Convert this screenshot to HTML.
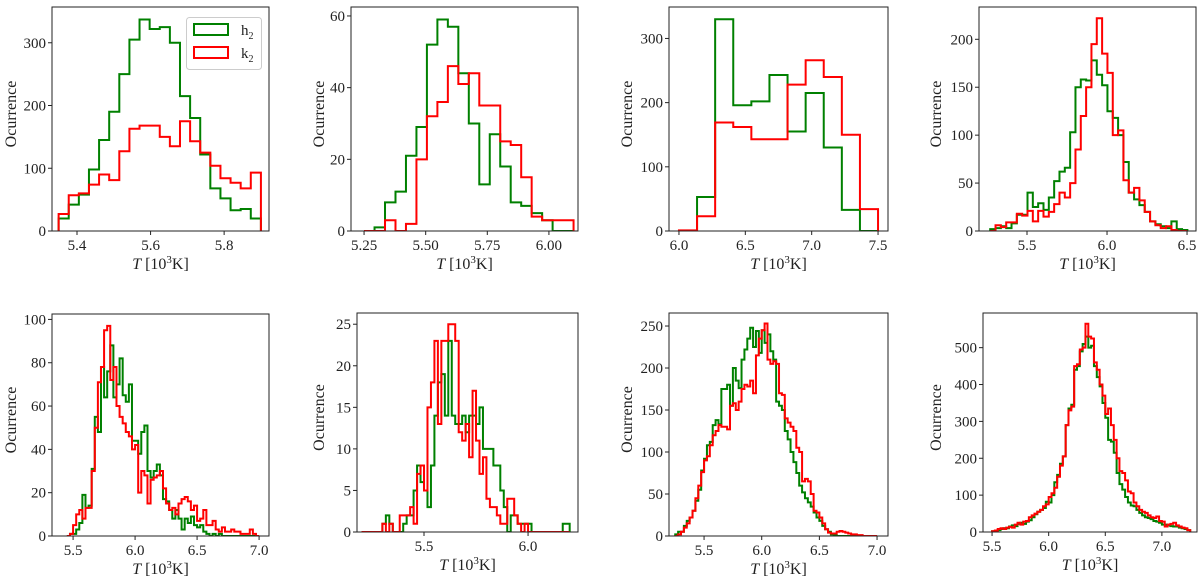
<!DOCTYPE html>
<html><head><meta charset="utf-8">
<style>
html,body{margin:0;padding:0;background:#fff;}
svg{display:block;font-family:"Liberation Serif","DejaVu Serif",serif;}
</style></head>
<body>
<svg id="fig" width="1200" height="586" viewBox="0 0 1200 586" xmlns="http://www.w3.org/2000/svg"></svg>
<script>
// ---- data (bin start, bin width, counts) ----
const p1Start=5.35, p1Width=0.0275;
const p1Green=[20,42,58,98,145,190,250,305,337,322,325,300,215,180,122,68,52,33,35,20];
const p1Red=[27,57,60,74,90,81,127,163,168,168,150,135,175,143,125,104,84,77,68,93];

const p2Start=5.25, p2Width=0.0425;
const p2Green=[0,1,8,11,21,29,52,59,57,44,30,13,27,18,8,7,5,3,0,0];
const p2Red=[0,0,3,0,2,20,32,36,46,41,44,35,35,25,24,15,4,3,3,3];

const p3Start=6.0, p3Width=0.13636;
const p3Green=[0,53,330,196,202,243,155,215,130,33,0];
const p3Red=[1,23,169,162,143,143,228,266,240,150,34];

const p4Start=5.27, p4Width=0.0333;
const p4Green=[2,3,5,3,8,17,17,40,25,29,22,35,52,62,66,103,150,158,157,178,163,152,125,118,100,72,40,33,27,20,10,7,5,3,10,2,1];
const p4Red=[0,6,4,9,9,18,16,21,10,21,15,20,28,40,35,50,85,120,150,195,222,185,165,100,105,53,40,45,32,20,10,6,3,5,1,0,0];

const p5Start=5.45, p5Width=0.025;
const p5Green=[0,1,1,3,6,19,13,14,31,55,48,78,64,76,88,64,70,82,65,62,70,44,44,38,48,51,30,27,30,33,28,17,16,12,8,12,8,3,8,6,9,5,4,5,2,1,0,1,0,1,0,0,0,0,0,0,0,0,0,0,0,0];
const p5Red=[0,1,5,10,12,8,13,13,30,50,71,78,95,97,72,78,60,55,52,48,46,40,42,20,30,28,15,26,27,28,30,22,15,12,13,10,15,17,18,16,12,14,7,8,12,5,5,7,3,2,4,2,2,3,2,2,1,1,1,3,1,0];

const p6Start=5.2, p6Width=0.016667;
const p6Green=[0,0,0,0,0,0,1,2,1,0,0,0,1,2,2,5,8,6,5,3,8,14,18,19,14,23,14,13,13,14,12,14,14,13,15,10,10,10,8,8,5,3,0,2,2,1,1,1,1,0,0,0,0,0,0,0,0,0,1,1];
const p6Red=[0,0,0,0,0,0,1,0,1,0,0,2,2,2,3,1,7,8,5,15,18,23,13,23,23,25,25,23,12,11,13,9,17,11,7,9,4,3,3,2,1,1,4,4,2,1,0,1,0,0,0,0,0,0,0,0,0,0,0,0];

const p7Start=5.25, p7Width=0.025;
const p7Green=[2,5,5,12,18,22,30,42,55,78,92,108,112,132,138,133,175,175,180,155,200,185,176,210,222,235,248,225,244,218,245,230,240,220,210,160,155,150,125,115,100,88,75,60,52,45,40,35,28,22,18,12,8,5,2,1,0,0,0,0,0,0,0,0,0,0,0,0,0,0];
const p7Red=[0,2,5,10,15,22,30,45,60,76,90,95,108,120,125,132,130,130,127,155,158,150,160,175,180,178,185,170,215,235,245,253,210,205,208,205,170,168,140,135,130,125,105,100,65,68,65,50,30,28,22,15,8,4,3,3,5,6,5,4,3,2,2,1,1,0,0,0,0,0];

const p8Start=5.5, p8Width=0.025;
const p8Green=[2,3,5,8,10,10,15,18,16,22,25,22,28,32,40,48,55,60,65,82,80,100,135,155,185,205,290,335,345,440,450,490,510,530,500,505,450,420,395,350,310,250,245,215,160,130,115,95,80,72,70,60,52,45,40,38,35,30,28,25,20,20,18,16,15,15,12,10,8,5];
const p8Red=[2,4,8,10,8,12,14,12,20,25,20,28,30,40,45,50,55,60,70,75,95,105,120,150,180,205,290,330,340,450,455,495,500,565,530,525,460,440,400,370,320,335,290,250,200,165,160,140,110,105,80,70,60,55,52,45,40,38,42,30,28,15,20,22,25,18,15,12,10,5];

const xTicks1=[5.4,5.6,5.8], yTicks1=[0,100,200,300];
const xTicks2=[5.25,5.5,5.75,6.0], yTicks2=[0,20,40,60];
const xTicks3=[6.0,6.5,7.0,7.5], yTicks3=[0,100,200,300];
const xTicks4=[5.5,6.0,6.5], yTicks4=[0,50,100,150,200];
const xTicks5=[5.5,6.0,6.5,7.0], yTicks5=[0,20,40,60,80,100];
const xTicks6=[5.5,6.0], yTicks6=[0,5,10,15,20,25];
const xTicks7=[5.5,6.0,6.5,7.0], yTicks7=[0,50,100,150,200,250];
const xTicks8=[5.5,6.0,6.5,7.0], yTicks8=[0,100,200,300,400,500];

// ---- layout ----
const panels=[
 {id:1,box:[52,7,269,231],xl:[5.332,5.922],yl:[0,357],start:p1Start,w:p1Width,g:p1Green,r:p1Red,xt:xTicks1,yt:yTicks1,dec:1,lab:11},
 {id:2,box:[351,7,578,231],xl:[5.197,6.118],yl:[0,62.5],start:p2Start,w:p2Width,g:p2Green,r:p2Red,xt:xTicks2,yt:yTicks2,dec:2,lab:319},
 {id:3,box:[669,7,888,231],xl:[5.925,7.575],yl:[0,349],start:p3Start,w:p3Width,g:p3Green,r:p3Red,xt:xTicks3,yt:yTicks3,dec:1,lab:627},
 {id:4,box:[979,7,1196,231],xl:[5.2,6.556],yl:[0,233.7],start:p4Start,w:p4Width,g:p4Green,r:p4Red,xt:xTicks4,yt:yTicks4,dec:1,lab:936},
 {id:5,box:[52,314,269,536],xl:[5.33,7.08],yl:[0,102.5],start:p5Start,w:p5Width,g:p5Green,r:p5Red,xt:xTicks5,yt:yTicks5,dec:1,lab:11},
 {id:6,box:[357,313,578,532],xl:[5.178,6.24],yl:[0,26.35],start:p6Start,w:p6Width,g:p6Green,r:p6Red,xt:xTicks6,yt:yTicks6,dec:1,lab:319},
 {id:7,box:[669,313,888,536],xl:[5.196,7.095],yl:[0,265.5],start:p7Start,w:p7Width,g:p7Green,r:p7Red,xt:xTicks7,yt:yTicks7,dec:1,lab:627},
 {id:8,box:[983,313,1197,532],xl:[5.42,7.31],yl:[0,594],start:p8Start,w:p8Width,g:p8Green,r:p8Red,xt:xTicks8,yt:yTicks8,dec:1,lab:936}
];
const NS="http://www.w3.org/2000/svg";
const svg=document.getElementById('fig');
function mk(tag,attrs,parent){const e=document.createElementNS(NS,tag);for(const k in attrs)e.setAttribute(k,attrs[k]);(parent||svg).appendChild(e);return e;}

panels.forEach(p=>{
  const [L,T,R,B]=p.box;
  const xs=v=>L+(v-p.xl[0])/(p.xl[1]-p.xl[0])*(R-L);
  const ys=v=>B-(v-p.yl[0])/(p.yl[1]-p.yl[0])*(B-T);
  const g=mk('g',{});
  
  
  const cp=mk('clipPath',{id:'cp'+p.id},g);
  mk('rect',{x:L,y:T,width:R-L,height:B-T},cp);
  function series(vals,color,name){
    let d='M'+xs(p.start).toFixed(2)+','+ys(0).toFixed(2);
    vals.forEach((v,i)=>{d+=' V'+ys(v).toFixed(2)+' H'+xs(p.start+(i+1)*p.w).toFixed(2);});
    d+=' V'+ys(0).toFixed(2);
    const path=mk('path',{d:d,fill:'none',stroke:color,'stroke-width':2,'stroke-linejoin':'miter','clip-path':'url(#cp'+p.id+')'},g);
    
    
  }
  series(p.g,'#008000','h2-histogram');
  series(p.r,'#ff0000','k2-histogram');
  const frame=mk('rect',{x:L,y:T,width:R-L,height:B-T,fill:'none',stroke:'#222','stroke-width':1},g);
  
  
  p.xt.forEach(t=>{
    const x=xs(t);
    mk('line',{x1:x,y1:B,x2:x,y2:B+4,stroke:'#222','stroke-width':1},g);
    const tx=mk('text',{x:x,y:B+19,'font-size':15,'text-anchor':'middle',fill:'#222'},g);
    tx.textContent=t.toFixed(p.dec);
    
    
  });
  p.yt.forEach(t=>{
    const y=ys(t);
    mk('line',{x1:L-4,y1:y,x2:L,y2:y,stroke:'#222','stroke-width':1},g);
    const tx=mk('text',{x:L-6,y:y+5,'font-size':15,'text-anchor':'end',fill:'#222'},g);
    tx.textContent=String(t);
    
    
  });
  const xl=mk('text',{x:(L+R)/2,y:B+38,'font-size':16,'text-anchor':'middle',fill:'#222'},g);
  xl.innerHTML='<tspan font-style="italic">T</tspan> [10<tspan font-size="11" dy="-6">3</tspan><tspan dy="6">K]</tspan>';
  
  
  const yl=mk('text',{x:p.lab,y:(T+B)/2,'font-size':16,'text-anchor':'middle',fill:'#222',transform:'rotate(-90 '+(p.lab+5)+' '+((T+B)/2)+')'},g);
  yl.setAttribute('x',p.lab+10);
  yl.textContent='Ocurrence';
  
  
});

// legend in first panel
const lg=mk('g',{});


mk('rect',{x:186.5,y:17.5,width:75,height:52,rx:3,fill:'#fff',stroke:'#ccc','stroke-width':1},lg);
const e1=mk('rect',{x:194,y:24,width:34,height:11,fill:'none',stroke:'#008000','stroke-width':2},lg);


const t1=mk('text',{x:241,y:35,'font-size':15,fill:'#222'},lg);
t1.innerHTML='h<tspan font-size="10" dy="4">2</tspan>';
const e2=mk('rect',{x:194,y:47,width:34,height:11,fill:'none',stroke:'#ff0000','stroke-width':2},lg);


const t2=mk('text',{x:241,y:58,'font-size':15,fill:'#222'},lg);
t2.innerHTML='k<tspan font-size="10" dy="4">2</tspan>';
</script>
</body></html>
